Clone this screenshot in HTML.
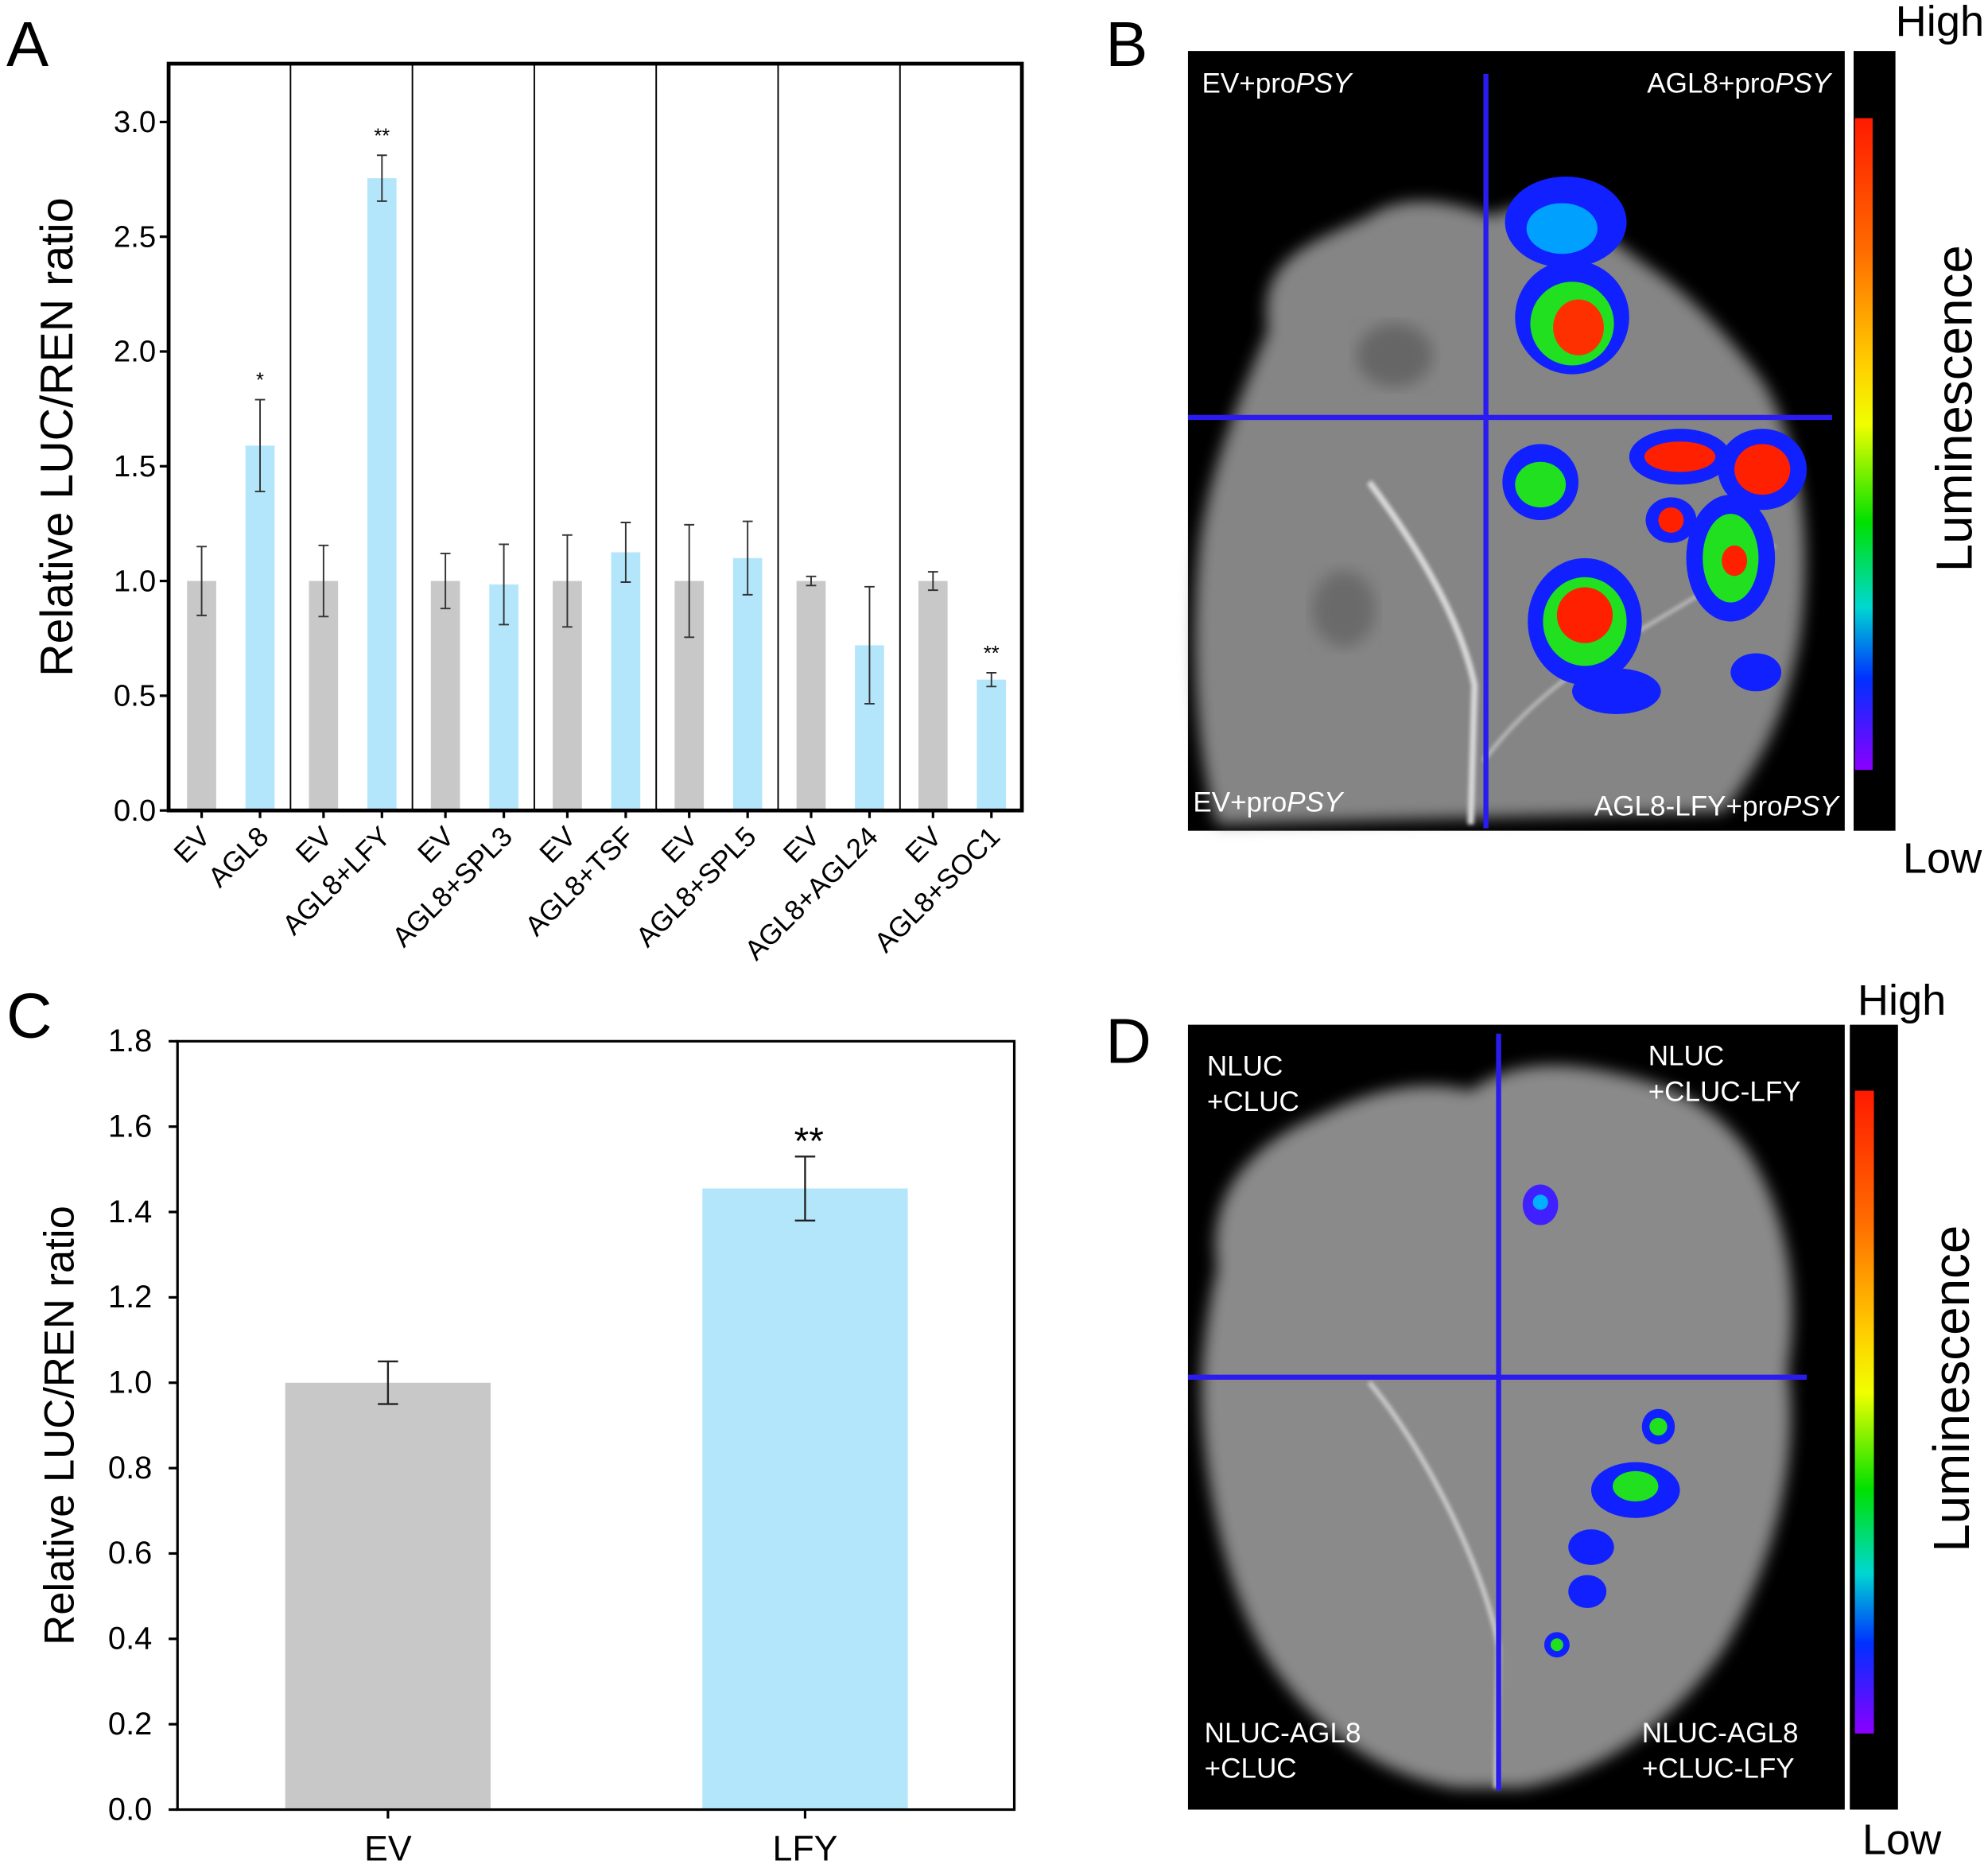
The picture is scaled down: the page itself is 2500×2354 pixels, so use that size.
<!DOCTYPE html>
<html><head><meta charset="utf-8"><style>
html,body{margin:0;padding:0;background:#fff}
svg{display:block;font-family:"Liberation Sans",Arial,sans-serif}
</style></head><body>
<svg id="fig" width="2500" height="2354" viewBox="0 0 1568 1476" xmlns="http://www.w3.org/2000/svg">
<defs>
<linearGradient id="lum" x1="0" y1="0" x2="0" y2="1">
<stop offset="0" stop-color="#ff1a00"/><stop offset="0.2" stop-color="#ff6a00"/><stop offset="0.38" stop-color="#ffd000"/><stop offset="0.47" stop-color="#f0ff00"/><stop offset="0.62" stop-color="#00e000"/><stop offset="0.75" stop-color="#00d8d0"/><stop offset="0.86" stop-color="#0030ff"/><stop offset="1" stop-color="#8a00ff"/>
</linearGradient>
<filter id="blur" x="-10%" y="-10%" width="120%" height="120%"><feGaussianBlur stdDeviation="6"/></filter>
<filter id="blur2"><feGaussianBlur stdDeviation="1.5"/></filter>
</defs>

<text x="5" y="52" font-size="50">A</text>
<text x="872" y="52" font-size="50">B</text>
<text x="5" y="818" font-size="50">C</text>
<text x="872" y="838" font-size="50">D</text>

<g id="chartA"></g>
<g id="chartC"></g>

<!-- Panel B image -->
<g>
<rect x="937" y="40" width="518" height="615" fill="#000"/>
<path d="M1000 260 C990 200 1040 190 1080 170 C1110 150 1150 160 1175 170 C1220 150 1260 180 1300 210 C1330 230 1360 260 1390 300 C1420 350 1430 420 1420 500 C1410 560 1390 600 1360 640 L960 650 C945 600 938 520 945 440 C950 380 975 320 1000 260 Z" fill="#858585" filter="url(#blur)"/>
<ellipse cx="1100" cy="280" rx="30" ry="25" fill="#666" filter="url(#blur)"/>
<ellipse cx="1060" cy="480" rx="25" ry="30" fill="#6a6a6a" filter="url(#blur)"/>
<path d="M1160 650 L1163 540 C1150 480 1110 420 1080 380" stroke="#d8d8d8" stroke-width="5" fill="none" filter="url(#blur2)"/>
<path d="M1170 600 C1230 520 1300 500 1400 430" stroke="#bbb" stroke-width="3" fill="none" filter="url(#blur2)"/>
<g>
<ellipse cx="1235" cy="175" rx="48" ry="36" fill="#1020ff"/><ellipse cx="1232" cy="180" rx="28" ry="20" fill="#00a0ff"/>
<ellipse cx="1240" cy="250" rx="45" ry="45" fill="#1020ff"/><ellipse cx="1240" cy="255" rx="33" ry="33" fill="#20e020"/><ellipse cx="1245" cy="258" rx="20" ry="22" fill="#ff3000"/>
<ellipse cx="1215" cy="380" rx="30" ry="30" fill="#1020ff"/><ellipse cx="1215" cy="382" rx="20" ry="18" fill="#20e020"/>
<ellipse cx="1325" cy="360" rx="40" ry="22" fill="#1020ff"/><ellipse cx="1325" cy="360" rx="28" ry="12" fill="#ff2000"/>
<ellipse cx="1390" cy="370" rx="35" ry="32" fill="#1020ff"/><ellipse cx="1390" cy="370" rx="22" ry="20" fill="#ff2000"/>
<ellipse cx="1365" cy="440" rx="35" ry="50" fill="#1020ff"/><ellipse cx="1365" cy="440" rx="22" ry="35" fill="#20e020"/><ellipse cx="1368" cy="442" rx="10" ry="12" fill="#ff2000"/>
<ellipse cx="1318" cy="410" rx="20" ry="18" fill="#1020ff"/><ellipse cx="1318" cy="410" rx="10" ry="10" fill="#ff2000"/>
<ellipse cx="1250" cy="490" rx="45" ry="50" fill="#1020ff"/><ellipse cx="1250" cy="490" rx="33" ry="35" fill="#20e020"/><ellipse cx="1250" cy="485" rx="22" ry="22" fill="#ff2000"/>
<ellipse cx="1275" cy="545" rx="35" ry="18" fill="#1020ff"/><ellipse cx="1385" cy="530" rx="20" ry="15" fill="#1020ff"/>
</g>
<line x1="1172" y1="58" x2="1172" y2="653" stroke="#2a1cf0" stroke-width="4"/>
<line x1="937" y1="329" x2="1445" y2="329" stroke="#2a1cf0" stroke-width="4"/>
<text x="948" y="73" font-size="22" fill="#fff">EV+pro<tspan font-style="italic">PSY</tspan></text>
<text x="1444" y="73" font-size="22" fill="#fff" text-anchor="end">AGL8+pro<tspan font-style="italic">PSY</tspan></text>
<text x="941" y="640" font-size="22" fill="#fff">EV+pro<tspan font-style="italic">PSY</tspan></text>
<text x="1450" y="643" font-size="22" fill="#fff" text-anchor="end">AGL8-LFY+pro<tspan font-style="italic">PSY</tspan></text>
</g>
<g>
<rect x="1462" y="40" width="33" height="615" fill="#000"/>
<rect x="1463" y="93" width="14" height="514" fill="url(#lum)"/>
<text x="1530" y="28" font-size="34" text-anchor="middle">High</text>
<text x="1532" y="688" font-size="34" text-anchor="middle">Low</text>
<text transform="translate(1555,322) rotate(-90)" font-size="40" text-anchor="middle">Luminescence</text>
</g>

<!-- Panel D image -->
<g>
<rect x="937" y="808" width="518" height="619" fill="#000"/>
<path d="M960 1000 C950 940 990 900 1040 880 C1080 860 1120 850 1160 860 C1200 830 1250 840 1290 850 C1330 860 1360 880 1380 910 C1410 960 1420 1020 1410 1080 C1420 1150 1400 1230 1360 1300 C1320 1360 1260 1400 1200 1410 L1150 1410 C1080 1400 1020 1350 990 1290 C960 1230 945 1140 948 1080 C950 1050 955 1020 960 1000 Z" fill="#8a8a8a" filter="url(#blur)"/>
<path d="M1180 1410 L1182 1300 C1175 1250 1130 1150 1080 1090" stroke="#c8c8c8" stroke-width="4" fill="none" filter="url(#blur2)"/>
<g>
<ellipse cx="1215" cy="950" rx="14" ry="16" fill="#4020ff"/><ellipse cx="1215" cy="948" rx="6" ry="6" fill="#00b0ff"/>
<ellipse cx="1308" cy="1125" rx="13" ry="14" fill="#1020ff"/><ellipse cx="1308" cy="1125" rx="7" ry="7" fill="#20e020"/>
<ellipse cx="1290" cy="1175" rx="35" ry="22" fill="#1020ff"/><ellipse cx="1290" cy="1172" rx="18" ry="12" fill="#20e020"/>
<ellipse cx="1255" cy="1220" rx="18" ry="14" fill="#1020ff"/><ellipse cx="1252" cy="1255" rx="15" ry="13" fill="#1020ff"/>
<ellipse cx="1228" cy="1297" rx="10" ry="10" fill="#1020ff"/><ellipse cx="1228" cy="1297" rx="5" ry="5" fill="#20e020"/>
</g>
<line x1="1182" y1="815" x2="1182" y2="1412" stroke="#2a1cf0" stroke-width="4"/>
<line x1="937" y1="1086" x2="1425" y2="1086" stroke="#2a1cf0" stroke-width="4"/>
<text x="952" y="848" font-size="22" fill="#fff">NLUC<tspan x="952" dy="28">+CLUC</tspan></text>
<text x="1300" y="840" font-size="22" fill="#fff">NLUC<tspan x="1300" dy="28">+CLUC-LFY</tspan></text>
<text x="950" y="1374" font-size="22" fill="#fff">NLUC-AGL8<tspan x="950" dy="28">+CLUC</tspan></text>
<text x="1295" y="1374" font-size="22" fill="#fff">NLUC-AGL8<tspan x="1295" dy="28">+CLUC-LFY</tspan></text>
</g>
<g>
<rect x="1459" y="808" width="38" height="619" fill="#000"/>
<rect x="1463" y="860" width="15" height="507" fill="url(#lum)"/>
<text x="1500" y="800" font-size="34" text-anchor="middle">High</text>
<text x="1500" y="1462" font-size="34" text-anchor="middle">Low</text>
<text transform="translate(1553,1095) rotate(-90)" font-size="40" text-anchor="middle">Luminescence</text>
</g>

<script>
const catsA = ["EV","AGL8","EV","AGL8+LFY","EV","AGL8+SPL3","EV","AGL8+TSF","EV","AGL8+SPL5","EV","AGL8+AGL24","EV","AGL8+SOC1"];
const valsA = [1.0,1.59,1.0,2.755,1.0,0.985,1.0,1.125,1.0,1.10,1.0,0.72,1.0,0.57];
const errA = [0.15,0.2,0.155,0.1,0.12,0.175,0.2,0.13,0.245,0.16,0.02,0.255,0.04,0.03];
const sigA = ["","*","","**","","","","","","","","","","**"];
const ticksA = [0,0.5,1.0,1.5,2.0,2.5,3.0];
const catsC = ["EV","LFY"];
const valsC = [1.0,1.455];
const errC = [0.05,0.075];
const sigC = ["","**"];
const ticksC = [0,0.2,0.4,0.6,0.8,1.0,1.2,1.4,1.6,1.8];
const NS="http://www.w3.org/2000/svg";
function mk(tag,attrs,parent,text){const e=document.createElementNS(NS,tag);for(const k in attrs)e.setAttribute(k,attrs[k]);if(text!==undefined)e.textContent=text;parent.appendChild(e);return e;}

// Chart A
(function(){
const g=document.getElementById('chartA');
const L=133,R=806,T=50,B=639;
const y=v=>B-v*(B-96)/3.0;
const step=(R-L)/14, bw=23;
const x=i=>L+step*(i+0.5)+ (i%2===0?2:0);
for(let k=1;k<7;k++){const sx=L+step*2*k;const ln=mk('line',{x1:sx,y1:T,x2:sx,y2:B,stroke:'#000','stroke-width':1.2},g);

}
catsA.forEach((c,i)=>{
const cx=x(i);
const r=mk('rect',{x:cx-bw/2,y:y(valsA[i]),width:bw,height:B-y(valsA[i]),fill:i%2?'#b3e6fa':'#c8c8c8'},g);


const e1=y(valsA[i]+errA[i]),e2=y(valsA[i]-errA[i]);
const eb=mk('path',{d:`M${cx} ${e1}V${e2}M${cx-4} ${e1}H${cx+4}M${cx-4} ${e2}H${cx+4}`,stroke:'#333','stroke-width':1.2,fill:'none'},g);


if(sigA[i]){const s=mk('text',{x:cx,y:e1-10,'font-size':16,'text-anchor':'middle'},g,sigA[i]);

}
mk('line',{x1:cx,y1:B,x2:cx,y2:B+6,stroke:'#000','stroke-width':2},g);
const t=mk('text',{transform:`translate(${cx+8},${B+22}) rotate(-45)`,'font-size':22,'text-anchor':'end'},g,c);


});
ticksA.forEach(v=>{mk('line',{x1:L-7,y1:y(v),x2:L,y2:y(v),stroke:'#000','stroke-width':2},g);
const t=mk('text',{x:L-10,y:y(v)+8,'font-size':24,'text-anchor':'end'},g,v.toFixed(1));

});
const f=mk('rect',{x:L,y:T,width:R-L,height:B-T,fill:'none',stroke:'#000','stroke-width':3},g);


const yl=mk('text',{transform:`translate(57,${(T+B)/2}) rotate(-90)`,'font-size':36,'text-anchor':'middle'},g,'Relative LUC/REN ratio');


})();

// Chart C
(function(){
const g=document.getElementById('chartC');
const L=140,R=800,T=821,B=1427;
const y=v=>B-v*(B-T)/1.8;
const centers=[306,635], bw=162;
catsC.forEach((c,i)=>{
const cx=centers[0]+(centers[1]-centers[0])*i;
const r=mk('rect',{x:cx-bw/2,y:y(valsC[i]),width:bw,height:B-y(valsC[i]),fill:i?'#b3e6fa':'#c8c8c8'},g);


const e1=y(valsC[i]+errC[i]),e2=y(valsC[i]-errC[i]);
const eb=mk('path',{d:`M${cx} ${e1}V${e2}M${cx-8} ${e1}H${cx+8}M${cx-8} ${e2}H${cx+8}`,stroke:'#222','stroke-width':1.5,fill:'none'},g);


if(sigC[i]){const s=mk('text',{x:cx+3,y:e1-2,'font-size':30,'text-anchor':'middle'},g,sigC[i]);

}
mk('line',{x1:cx,y1:B,x2:cx,y2:B+7,stroke:'#000','stroke-width':2},g);
const t=mk('text',{x:cx,y:B+40,'font-size':28,'text-anchor':'middle'},g,c);


});
ticksC.forEach(v=>{mk('line',{x1:L-7,y1:y(v),x2:L,y2:y(v),stroke:'#000','stroke-width':2},g);
const t=mk('text',{x:L-20,y:y(v)+8,'font-size':25,'text-anchor':'end'},g,v.toFixed(1));

});
const f=mk('rect',{x:L,y:T,width:R-L,height:B-T,fill:'none',stroke:'#000','stroke-width':2},g);


const yl=mk('text',{transform:`translate(58,${(T+B)/2}) rotate(-90)`,'font-size':33,'text-anchor':'middle'},g,'Relative LUC/REN ratio');


})();
</script>
</svg>
</body></html>
